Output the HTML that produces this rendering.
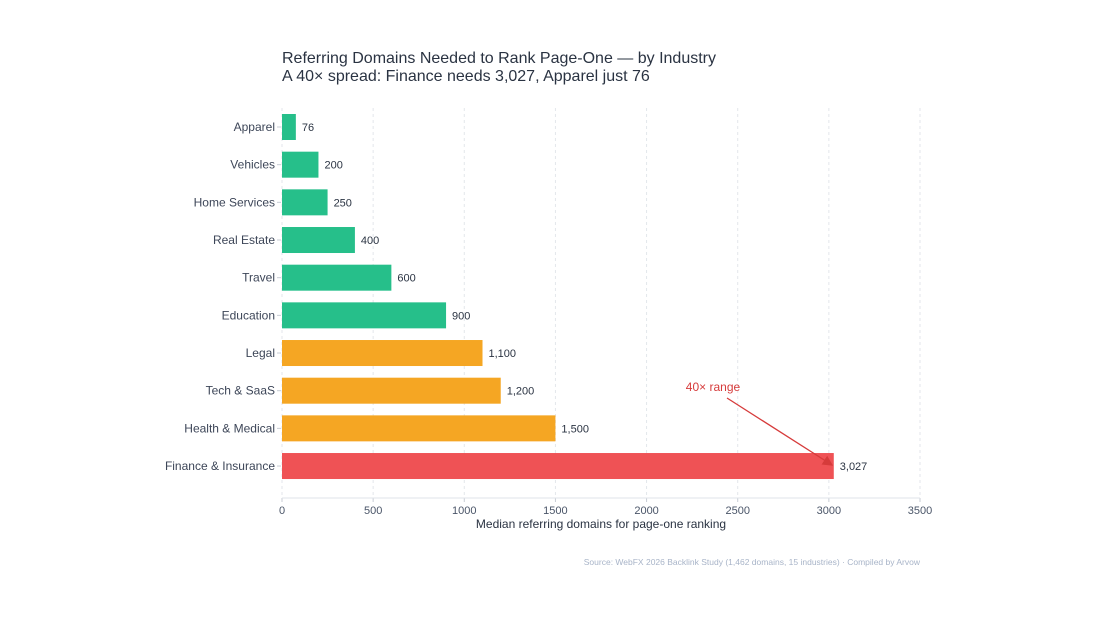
<!DOCTYPE html>
<html><head><meta charset="utf-8"><style>
body{margin:0;background:#fff;font-family:"Liberation Sans",sans-serif;}
svg{display:block}
</style></head><body>
<svg id="c" width="1100" height="619">
<text x="282" y="63" font-size="16" fill="#2a3342">Referring Domains Needed to Rank Page-One — by Industry</text>
<text x="282" y="81" font-size="16" fill="#2a3342">A 40× spread: Finance needs 3,027, Apparel just 76</text>
<g id="grid"></g><g id="bars"></g><g id="axes"></g>
<text x="601" y="528" font-size="12" fill="#2a3342" text-anchor="middle">Median referring domains for page-one ranking</text>
<text x="920" y="565" font-size="8.5" fill="#a8b4c8" text-anchor="end">Source: WebFX 2026 Backlink Study (1,462 domains, 15 industries) · Compiled by Arvow</text>
<text x="713" y="391" font-size="12" fill="#d63b3b" text-anchor="middle">40× range</text>
<defs><marker id="ah" markerWidth="8" markerHeight="8" refX="7" refY="4" orient="auto"><path d="M0,0L8,4L0,8z" fill="#d63b3b"/></marker></defs>
<line x1="727" y1="398" x2="832" y2="465" stroke="#d63b3b" stroke-width="1.3" marker-end="url(#ah)"/>
</svg>
<script>
const categories=["Apparel","Vehicles","Home Services","Real Estate","Travel","Education","Legal","Tech & SaaS","Health & Medical","Finance & Insurance"];
const values=[76,200,250,400,600,900,1100,1200,1500,3027];
const labels=["76","200","250","400","600","900","1,100","1,200","1,500","3,027"];
const tiers=["g","g","g","g","g","g","o","o","o","r"];
const ticks=[0,500,1000,1500,2000,2500,3000,3500];
const colors={g:"#26bf8a",o:"#f5a623",r:"#ef5255"};
const NS="http://www.w3.org/2000/svg";
const x=v=>282+v*(638/3500);
const y=i=>127+i*37.67;
function mk(t,a,p){const e=document.createElementNS(NS,t);for(const k in a)e.setAttribute(k,a[k]);p.appendChild(e);return e;}
const G=document.getElementById('grid'),B=document.getElementById('bars'),A=document.getElementById('axes');
ticks.forEach(t=>{
 const l=mk('line',{x1:x(t),x2:x(t),y1:108,y2:498,stroke:'#e3e6eb','stroke-dasharray':'3,3'},G);
 
 
 mk('line',{x1:x(t),x2:x(t),y1:498,y2:502,stroke:'#c8cdd5'},A);
 const tx=mk('text',{x:x(t),y:514,'font-size':11,fill:'#4a5568','text-anchor':'middle'},A);tx.textContent=t;
 
 
});
mk('line',{x1:282,x2:920,y1:498,y2:498,stroke:'#dfe3e8'},A);
categories.forEach((c,i)=>{
 const r=mk('rect',{x:x(0),y:y(i)-13,width:x(values[i])-x(0),height:26,fill:colors[tiers[i]]},B);
 
 
 const v=mk('text',{x:x(values[i])+6,y:y(i)+4,'font-size':11,fill:'#2a3342'},B);v.textContent=labels[i];
 
 
 mk('line',{x1:277,x2:281,y1:y(i),y2:y(i),stroke:'#c8cdd5'},A);
 const t=mk('text',{x:275,y:y(i)+4,'font-size':12,fill:'#3d4658','text-anchor':'end'},A);t.textContent=c;
 
 
});
</script>
</body></html>
